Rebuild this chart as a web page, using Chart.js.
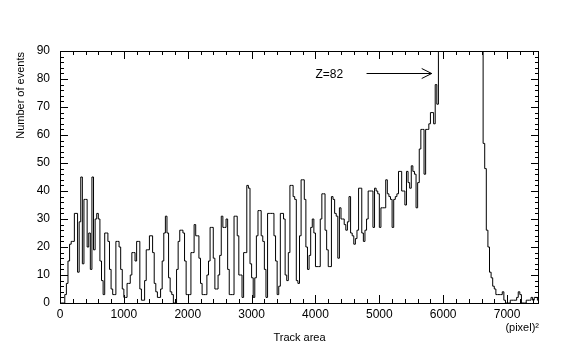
<!DOCTYPE html>
<html lang="en">
<head>
<meta charset="UTF-8">
<script src="https://cdn.jsdelivr.net/npm/chart.js"></script>
<title>Track area</title>
<style>
  html, body { margin: 0; padding: 0; background: #fff; }
  #wrap { width: 586px; height: 361px; }
</style>
</head>
<body>
<div id="wrap"><canvas id="histo" width="586" height="361"></canvas></div>
<script>
// bin width of the histogram, in (pixel)^2
const binWidth = 25;
const xMin = 0;
const xMax = 7500;
const yMin = 0;
const yMax = 90;

// number of events per bin (300 bins of 25)
// bins above 90 are off scale in the original, values there are guesses
const counts = [
  0, 0, 0, 3, 7, 15, 21, 22, 22, 32,
  32, 11, 29, 45, 14, 37, 37, 20, 25, 12,
  45, 19, 30, 32, 30, 15, 8, 3, 25, 25,
  22, 12, 5, 3, 3, 22, 22, 20, 12, 5,
  2, 2, 7, 7, 10, 18, 18, 15, 22, 22,
  5, 1, 1, 8, 19, 19, 24, 24, 18, 7,
  4, 2, 2, 5, 15, 25, 31, 25, 9, 4,
  3, 0, 0, 12, 22, 26, 26, 25, 15, 3,
  3, 3, 18, 18, 28, 24, 24, 16, 7, 3,
  3, 3, 10, 15, 27, 27, 16, 5, 5, 10,
  17, 31, 27, 27, 30, 12, 3, 3, 3, 31,
  31, 24, 10, 10, 2, 18, 18, 42, 41, 14,
  9, 2, 9, 24, 33, 33, 24, 22, 12, 2,
  32, 32, 32, 32, 24, 15, 3, 6, 32, 32,
  30, 10, 8, 18, 42, 42, 38, 37, 8, 7,
  24, 44, 44, 37, 20, 12, 17, 27, 30, 25,
  13, 13, 13, 30, 39, 39, 26, 19, 13, 13,
  38, 37, 32, 31, 16, 34, 30, 30, 28, 26,
  29, 38, 25, 24, 21, 23, 26, 41, 41, 25,
  22, 26, 30, 40, 40, 40, 27, 41, 40, 39,
  27, 34, 34, 34, 44, 39, 38, 37, 27, 37,
  38, 39, 47, 47, 40, 40, 35, 47, 43, 41,
  49, 47, 46, 34, 43, 55, 62, 62, 46, 62,
  62, 64, 68, 68, 64, 78, 71, 96, 104, 118,
  135, 160, 190, 230, 270, 320, 370, 420, 470, 510,
  540, 560, 555, 530, 490, 440, 380, 320, 260, 210,
  170, 140, 118, 102, 94, 57, 48, 26, 20, 11,
  9, 6, 5, 3, 3, 3, 3, 4, 1, 0,
  0, 0, 1, 1, 1, 1, 2, 4, 3, 0,
  0, 0, 1, 1, 1, 2, 1, 2, 2, 1
];

// tick labels
const xTicks = [0, 1000, 2000, 3000, 4000, 5000, 6000, 7000];
const yTicks = [0, 10, 20, 30, 40, 50, 60, 70, 80, 90];
const xMinorStep = 200;
const yMinorStep = 2;

const xTitle = 'Track area';
const xUnit = '(pixel)\u00b2';
const yTitle = 'Number of events';
const peakLabel = 'Z=82';
const arrowFrom = 4800;
const arrowTo = 5820;
const arrowY = 82;

// left edge of every bin + closing point at the right
let points = [];
for (let i = 0; i < counts.length; i++) {
  points.push({ x: i * binWidth, y: counts[i] });
}
points.push({ x: counts.length * binWidth, y: counts[counts.length - 1] });

const font12 = { family: 'Liberation Sans, Arial, sans-serif', size: 12 };

// frame with inward ticks on all four sides, titles and the Z=82 arrow
const frameTicks = {
  id: 'frameTicks',
  afterDraw(chart) {
    const ctx = chart.ctx;
    const a = chart.chartArea;
    const x = chart.scales.x;
    const y = chart.scales.y;
    ctx.save();
    ctx.strokeStyle = '#000';
    ctx.lineWidth = 1;
    ctx.strokeRect(Math.round(a.left) + 0.5, Math.round(a.top) + 0.5,
      Math.round(a.right - a.left) - 1, Math.round(a.bottom - a.top));

    ctx.beginPath();
    for (let v = xMin; v <= xMax; v += xMinorStep) {
      const px = Math.round(x.getPixelForValue(v)) + 0.5;
      const len = xTicks.includes(v) ? 8 : 4;
      ctx.moveTo(px, a.bottom);
      ctx.lineTo(px, a.bottom - len);
      ctx.moveTo(px, a.top);
      ctx.lineTo(px, a.top + len);
    }
    for (let v = yMin; v <= yMax; v += yMinorStep) {
      const py = Math.round(y.getPixelForValue(v)) + 0.5;
      const len = yTicks.includes(v) ? 8 : 4;
      ctx.moveTo(a.left, py);
      ctx.lineTo(a.left + len, py);
      ctx.moveTo(a.right, py);
      ctx.lineTo(a.right - len, py);
    }
    ctx.stroke();

    ctx.fillStyle = '#000';
    ctx.font = '11px "Liberation Sans", Arial, sans-serif';
    ctx.textBaseline = 'middle';
    ctx.textAlign = 'center';
    ctx.fillText(xTitle, (a.left + a.right) / 2, 338);
    ctx.textAlign = 'right';
    ctx.fillText(xUnit, a.right, 328);

    ctx.save();
    ctx.translate(21, a.top + 1);
    ctx.rotate(-Math.PI / 2);
    ctx.textAlign = 'right';
    ctx.fillText(yTitle, 0, 0);
    ctx.restore();

    // Z=82 label and arrow
    const ay = Math.round(y.getPixelForValue(arrowY)) + 0.5;
    const ax0 = x.getPixelForValue(arrowFrom);
    const ax1 = x.getPixelForValue(arrowTo);
    ctx.font = '12px "Liberation Sans", Arial, sans-serif';
    ctx.textAlign = 'left';
    ctx.fillText(peakLabel, x.getPixelForValue(4000), ay + 1);
    ctx.beginPath();
    ctx.moveTo(ax0, ay);
    ctx.lineTo(ax1, ay);
    ctx.moveTo(ax1 - 10, ay - 5);
    ctx.lineTo(ax1, ay);
    ctx.lineTo(ax1 - 10, ay + 5);
    ctx.stroke();
    ctx.restore();
  }
};

const config = {
  type: 'line',
  data: {
    datasets: [{
      label: 'events',
      data: points,
      stepped: true,
      fill: false,
      borderColor: '#000',
      borderWidth: 1,
      pointRadius: 0,
      tension: 0
    }]
  },
  options: {
    responsive: false,
    animation: false,
    devicePixelRatio: 1,
    layout: { padding: { top: 51, right: 47, left: 0, bottom: 0 } },
    plugins: {
      legend: { display: false },
      tooltip: { enabled: false }
    },
    scales: {
      x: {
        type: 'linear',
        min: xMin,
        max: xMax,
        grid: { display: false, drawTicks: false },
        border: { display: false },
        ticks: {
          padding: 4, color: '#000', font: font12, maxRotation: 0, autoSkip: false,
          callback: function (value) { return String(value); }
        },
        afterBuildTicks: function (s) { s.ticks = xTicks.map(v => ({ value: v })); },
        afterFit: function (s) { s.height = 58; }
      },
      y: {
        min: yMin,
        max: yMax,
        grid: { display: false, drawTicks: false },
        border: { display: false },
        ticks: {
          padding: 10, color: '#000', font: font12, autoSkip: false,
          callback: function (value) { return String(value); }
        },
        afterBuildTicks: function (s) { s.ticks = yTicks.map(v => ({ value: v })); },
        afterFit: function (s) { s.width = 60; }
      }
    }
  },
  plugins: [frameTicks]
};

let myChart = new Chart(document.getElementById('histo'), config);
</script>
</body>
</html>
